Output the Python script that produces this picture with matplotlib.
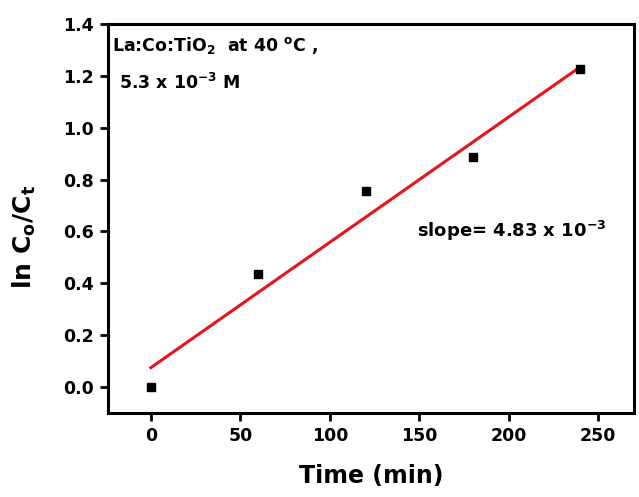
import matplotlib.pyplot as plt

plt.rcParams['font.family'] = ['DejaVu Sans']
plt.rcParams['font.weight'] = 'bold'
plt.rcParams['mathtext.fontset'] = 'custom'
plt.rcParams['mathtext.rm'] = 'DejaVu Sans:bold'
plt.rcParams['mathtext.it'] = 'DejaVu Sans:bold'
plt.rcParams['mathtext.bf'] = 'DejaVu Sans:bold'
plt.rcParams['mathtext.default'] = 'rm'

# measured points
time_min = [0, 60, 120, 180, 240]
ln_ratio = [0.0, 0.435, 0.755, 0.888, 1.227]

# linear fit shown in the figure
slope = 4.83e-3
intercept = 0.075
fit_x = [0, 240]

fig = plt.figure(figsize=(6.39, 4.97), dpi=100)
ax = fig.add_axes([0.169, 0.169, 0.823, 0.783])

fit_y = [intercept + slope * t for t in fit_x]
ax.plot(fit_x, fit_y, color='#e8141b', lw=2.2, zorder=2)
ax.plot(time_min, ln_ratio, 's', color='black', ms=6, zorder=3)

ax.set_xlim(-24, 270)
ax.set_ylim(-0.1, 1.4)
ax.set_xticks([0, 50, 100, 150, 200, 250])
ax.set_yticks([0.0, 0.2, 0.4, 0.6, 0.8, 1.0, 1.2, 1.4])
ax.set_yticklabels(['0.0', '0.2', '0.4', '0.6', '0.8', '1.0', '1.2', '1.4'])

for s in ax.spines.values():
    s.set_linewidth(2.2)
ax.tick_params(direction='out', length=6, width=2, labelsize=12.5, pad=4)

ax.set_xlabel('Time (min)', fontsize=17, fontweight='bold', labelpad=14)
ax.set_ylabel('ln C$_{o}$/C$_{t}$', fontsize=18, fontweight='bold')
ax.yaxis.set_label_coords(-0.133, 0.452)

ax.text(0.008, 0.945, 'La:Co:TiO$_2$  at 40 $^{o}$C ,', transform=ax.transAxes,
        fontsize=12.5, va='center')
ax.text(0.02, 0.847, '5.3 x 10$^{-3}$ M', transform=ax.transAxes,
        fontsize=12.5, va='center')
ax.text(0.588, 0.467, 'slope= 4.83 x 10$^{-3}$', transform=ax.transAxes,
        fontsize=13, va='center')

fig.savefig('out.png', dpi=100)
